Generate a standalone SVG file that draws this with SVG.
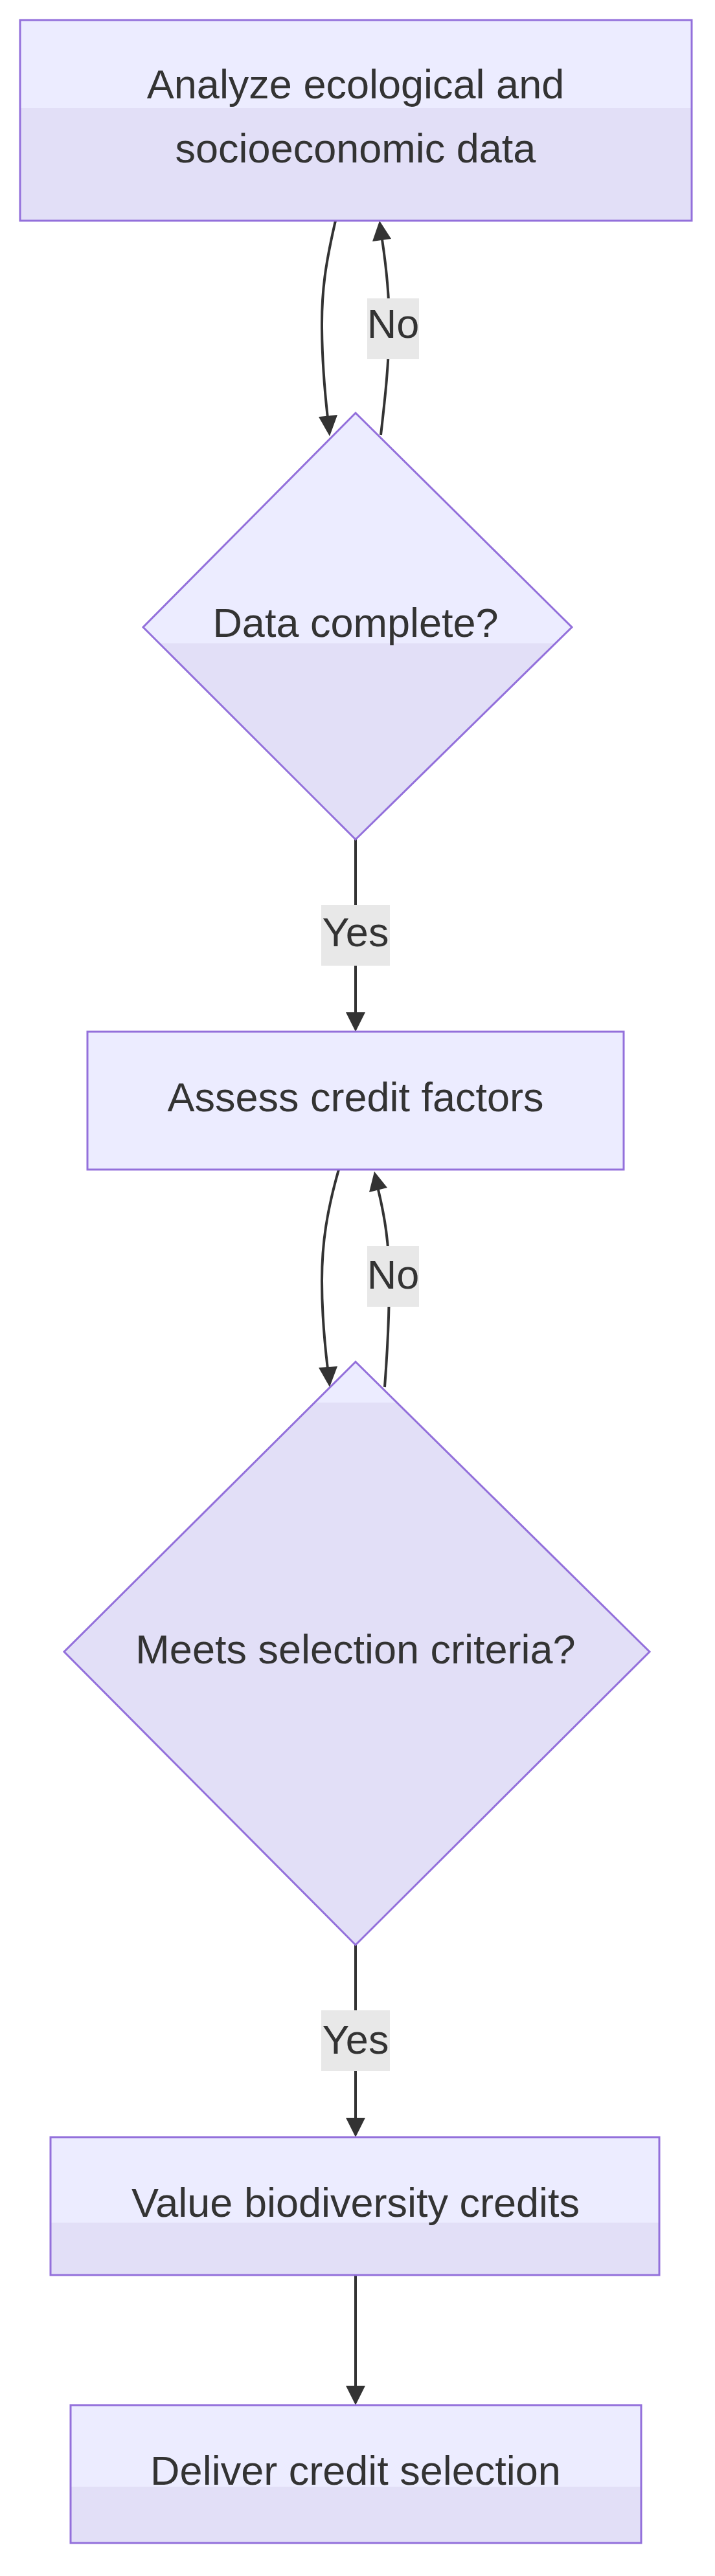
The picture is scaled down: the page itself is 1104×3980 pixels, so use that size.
<svg xmlns="http://www.w3.org/2000/svg" width="1104" height="3980" viewBox="0 0 1104 3980">
<defs>
<linearGradient id="g1" x1="0" y1="0" x2="0" y2="1"><stop offset="0.44" stop-color="#ECECFF"/><stop offset="0.44" stop-color="#E2DFF7"/></linearGradient>
<linearGradient id="gd1" x1="0" y1="0" x2="0" y2="1"><stop offset="0.54" stop-color="#ECECFF"/><stop offset="0.54" stop-color="#E2DFF7"/></linearGradient>
<linearGradient id="gd2" x1="0" y1="0" x2="0" y2="1"><stop offset="0.07" stop-color="#ECECFF"/><stop offset="0.07" stop-color="#E2DFF7"/></linearGradient>
<linearGradient id="g5" x1="0" y1="0" x2="0" y2="1"><stop offset="0.62" stop-color="#ECECFF"/><stop offset="0.62" stop-color="#E2DFF7"/></linearGradient>
<linearGradient id="g6" x1="0" y1="0" x2="0" y2="1"><stop offset="0.59" stop-color="#ECECFF"/><stop offset="0.59" stop-color="#E2DFF7"/></linearGradient>
<style>
.n{stroke:#9370DB;stroke-width:3}
.t{font-family:"Liberation Sans",Arial,sans-serif;font-size:63px;fill:#333;text-anchor:middle}
.e{fill:none;stroke:#333;stroke-width:4}
.a{fill:#333}
.lb{fill:#E8E8E8}
</style>
</defs>
<g id="connectors">
<path class="e" d="M518,341 C502,410 497,450 497,500 C497,560 502,610 506,646"/>
<path class="a" d="M492,644 L521,641 L509,674 z"/>
<path class="e" d="M588,672 C594,620 601,560 601,500 C601,450 596,410 590,370"/>
<path class="a" d="M575,373 L604,369 L586,341 z"/>
<path class="e" d="M549,1297 L549,1566"/>
<path class="a" d="M534,1564 L564,1564 L549,1594 z"/>
<path class="e" d="M523,1807 C505,1870 497,1920 497,1979 C497,2040 503,2090 506,2115"/>
<path class="a" d="M492,2113 L521,2111 L509,2143 z"/>
<path class="e" d="M594,2143 C598,2090 601,2040 601,1979 C601,1920 594,1880 584,1838"/>
<path class="a" d="M570,1842 L598,1835 L578,1810 z"/>
<path class="e" d="M549,3005 L549,3274"/>
<path class="a" d="M534,3272 L564,3272 L549,3302 z"/>
<path class="e" d="M549,3515 L549,3688"/>
<path class="a" d="M534,3686 L564,3686 L549,3716 z"/>
<rect class="lb" x="567" y="461" width="80" height="94"/>
<text class="t" x="607" y="522">No</text>
<rect class="lb" x="496" y="1398" width="106" height="94"/>
<text class="t" x="549" y="1462">Yes</text>
<rect class="lb" x="567" y="1925" width="80" height="94"/>
<text class="t" x="607" y="1991">No</text>
<rect class="lb" x="496" y="3106" width="106" height="94"/>
<text class="t" x="549" y="3173">Yes</text>
</g>
<g id="n1"><rect class="n" x="31" y="31" width="1037" height="310" fill="url(#g1)"/><text class="t" x="549" y="152">Analyze ecological and</text><text class="t" x="549" y="251">socioeconomic data</text></g>
<g id="n2"><polygon class="n" points="549,638 883,969 549,1297 221,969" fill="url(#gd1)"/><text class="t" x="549" y="984">Data complete?</text></g>
<g id="n3"><rect class="n" x="135" y="1594" width="828" height="213" fill="#ECECFF"/><text class="t" x="549" y="1717">Assess credit factors</text></g>
<g id="n4"><polygon class="n" points="549,2104 1003,2552 549,3005 99,2552" fill="url(#gd2)"/><text class="t" x="549" y="2570">Meets selection criteria?</text></g>
<g id="n5"><rect class="n" x="78" y="3302" width="940" height="213" fill="url(#g5)"/><text class="t" x="549" y="3425">Value biodiversity credits</text></g>
<g id="n6"><rect class="n" x="109" y="3716" width="881" height="213" fill="url(#g6)"/><text class="t" x="549" y="3839">Deliver credit selection</text></g>
</svg>
